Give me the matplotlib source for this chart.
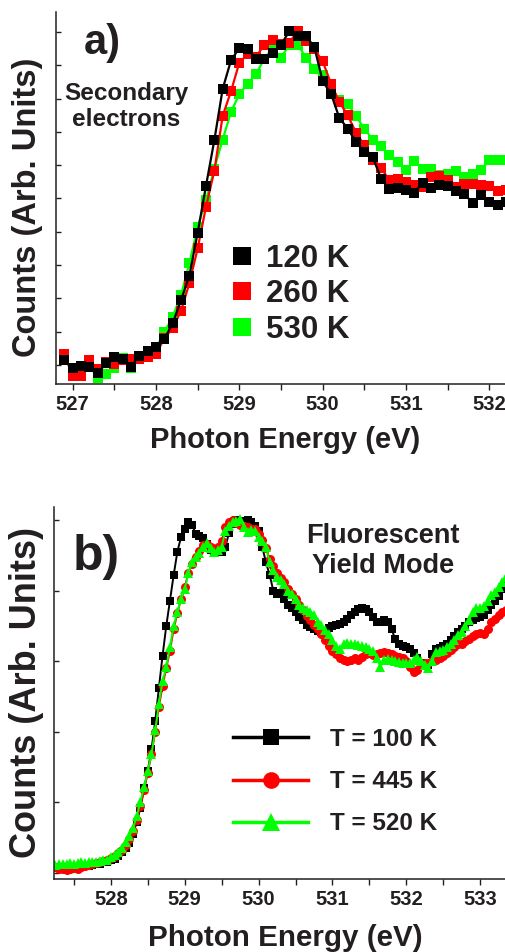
import numpy as np
import matplotlib
matplotlib.use("Agg")
import matplotlib.pyplot as plt
from matplotlib.lines import Line2D
from matplotlib.ticker import MultipleLocator

plt.rcParams["font.family"] = ["Liberation Sans", "DejaVu Sans"]
plt.rcParams["font.weight"] = "bold"

TXT = "#231f20"

# ── Panel a: secondary electrons (0.1 eV steps) ─────────────────────────────
e_a = np.round(np.arange(526.9, 532.25, 0.1), 2)

sec_120K = [0.15, -0.10, -0.02, -0.05, -0.25, 0.05, 0.23, 0.18, -0.05, 0.28,
            0.43, 0.55, 0.78, 1.25, 1.95, 2.68, 3.97, 5.38, 6.75, 8.29,
            9.15, 9.52, 9.48, 9.20, 9.20, 9.37, 9.62, 10.02, 9.88, 9.88,
            9.55, 8.52, 8.15, 7.42, 7.10, 6.70, 6.40, 6.25, 5.60, 5.28,
            5.32, 5.25, 5.18, 5.47, 5.32, 5.42, 5.38, 5.22, 5.13, 4.87,
            5.12, 4.90, 4.80, 4.90]
sec_260K = [0.32, -0.33, -0.33, 0.15, -0.13, 0.10, 0.02, 0.15, 0.18, 0.18,
            0.25, 0.33, 0.80, 1.10, 1.63, 2.45, 3.50, 4.75, 5.83, 7.48,
            8.22, 9.08, 9.33, 9.25, 9.62, 9.75, 9.65, 9.68, 10.03, 9.73,
            9.48, 9.12, 8.45, 7.90, 7.50, 6.98, 6.60, 6.17, 5.92, 5.55,
            5.60, 5.50, 5.40, 5.35, 5.65, 5.68, 5.57, 5.35, 5.45, 5.45,
            5.42, 5.37, 5.22, 5.27]
sec_530K = [0.25, -0.20, -0.13, -0.03, -0.38, -0.28, -0.08, 0.20, -0.08, 0.27,
            0.37, 0.52, 0.98, 1.45, 2.10, 3.05, 4.15, 4.95, 5.90, 6.77,
            7.60, 8.13, 8.45, 8.73, 9.20, 9.52, 9.23, 9.62, 9.62, 9.23,
            8.88, 8.70, 8.30, 7.97, 7.85, 7.47, 7.10, 6.77, 6.58, 6.30,
            6.10, 5.87, 6.13, 5.88, 5.88, 5.72, 5.75, 5.82, 5.65, 5.75,
            5.85, 6.15, 6.15, 6.15]

# ── Panel b: fluorescent yield (0.05 eV steps) ──────────────────────────────
e_b = np.round(np.arange(527.25, 533.36, 0.05), 2)

fy_100K = [0.09, 0.09, 0.08, 0.08, 0.09, 0.08, 0.09, 0.10, 0.10, 0.10,
           0.11, 0.12, 0.13, 0.15, 0.16, 0.18, 0.20, 0.24, 0.29, 0.35,
           0.42, 0.55, 0.72, 0.92, 1.20, 1.45, 1.75, 2.15, 2.62, 3.08,
           3.50, 3.86, 4.22, 4.55, 4.76, 4.88, 4.97, 4.93, 4.80, 4.77,
           4.75, 4.66, 4.58, 4.56, 4.58, 4.55, 4.62, 4.82, 4.95, 5.00,
           4.99, 4.98, 5.00, 4.97, 4.92, 4.85, 4.62, 4.40, 4.22, 4.00,
           3.95, 3.96, 3.88, 3.80, 3.76, 3.70, 3.63, 3.58, 3.52, 3.48,
           3.45, 3.43, 3.42, 3.43, 3.47, 3.50, 3.51, 3.53, 3.56, 3.60,
           3.66, 3.70, 3.74, 3.76, 3.74, 3.70, 3.62, 3.56, 3.55, 3.58,
           3.56, 3.45, 3.32, 3.25, 3.22, 3.20, 3.17, 3.12, 3.05, 2.98,
           2.94, 2.95, 3.10, 3.17, 3.19, 3.21, 3.25, 3.30, 3.36, 3.42,
           3.46, 3.50, 3.55, 3.58, 3.61, 3.63, 3.66, 3.72, 3.79, 3.85,
           3.92, 4.02, 4.10]
fy_445K = [0.08, 0.06, 0.05, 0.04, 0.06, 0.07, 0.06, 0.09, 0.10, 0.11,
           0.13, 0.14, 0.15, 0.17, 0.19, 0.21, 0.24, 0.28, 0.33, 0.40,
           0.48, 0.60, 0.75, 0.95, 1.18, 1.42, 1.68, 2.00, 2.35, 2.65,
           2.90, 3.15, 3.45, 3.68, 3.88, 4.05, 4.25, 4.38, 4.48, 4.56,
           4.65, 4.66, 4.62, 4.58, 4.62, 4.70, 4.90, 4.98, 5.00, 4.96,
           4.93, 4.92, 4.90, 4.88, 4.87, 4.80, 4.72, 4.60, 4.45, 4.35,
           4.25, 4.18, 4.12, 4.02, 3.95, 3.88, 3.80, 3.72, 3.64, 3.58,
           3.52, 3.45, 3.38, 3.30, 3.22, 3.15, 3.10, 3.05, 3.02, 3.00,
           3.02, 3.04, 3.02, 3.06, 3.10, 3.11, 3.09, 3.10, 3.12, 3.13,
           3.12, 3.10, 3.08, 3.06, 3.04, 3.00, 2.92, 2.85, 2.88, 2.95,
           2.97, 2.98, 3.00, 3.02, 3.05, 3.08, 3.12, 3.16, 3.20, 3.24,
           3.25, 3.28, 3.32, 3.36, 3.39, 3.40, 3.39, 3.45, 3.55, 3.60,
           3.65, 3.70, 3.72]
fy_520K = [0.11, 0.12, 0.13, 0.12, 0.14, 0.13, 0.14, 0.15, 0.14, 0.15,
           0.16, 0.15, 0.17, 0.18, 0.19, 0.22, 0.25, 0.30, 0.36, 0.44,
           0.52, 0.64, 0.80, 1.01, 1.22, 1.45, 1.68, 2.02, 2.40, 2.72,
           2.92, 3.20, 3.50, 3.70, 3.88, 4.02, 4.25, 4.40, 4.48, 4.54,
           4.62, 4.68, 4.60, 4.55, 4.57, 4.62, 4.85, 4.92, 4.97, 4.99,
           5.01, 4.90, 4.83, 4.86, 4.85, 4.76, 4.70, 4.62, 4.40, 4.30,
           4.20, 4.15, 4.10, 4.00, 3.95, 3.88, 3.80, 3.75, 3.72, 3.70,
           3.66, 3.56, 3.52, 3.44, 3.38, 3.30, 3.22, 3.17, 3.24, 3.26,
           3.25, 3.24, 3.23, 3.22, 3.20, 3.18, 3.15, 3.05, 2.92, 3.02,
           3.03, 3.02, 3.00, 2.99, 2.98, 2.97, 2.98, 3.02, 3.06, 3.00,
           2.95, 2.90, 3.00, 3.13, 3.15, 3.16, 3.20, 3.25, 3.30, 3.37,
           3.42, 3.50, 3.58, 3.70, 3.75, 3.75, 3.78, 3.85, 3.94, 3.98,
           4.05, 4.13, 4.20]

labels_a = ["120 K", "260 K", "530 K"]
labels_b = ["T = 100 K", "T = 445 K", "T = 520 K"]
BLACK, RED, GREEN = "#000000", "#ff0000", "#00ff00"


def style_axis(ax, xlim, ylim, yticks, xmajor):
    ax.set_xlim(*xlim)
    ax.set_ylim(*ylim)
    ax.set_yticks(yticks)
    ax.set_yticklabels([])
    ax.xaxis.set_major_locator(MultipleLocator(xmajor))
    ax.xaxis.set_minor_locator(MultipleLocator(xmajor / 2))
    for s in ["top", "right"]:
        ax.spines[s].set_visible(False)
    for s in ["left", "bottom"]:
        ax.spines[s].set_linewidth(1.1)
        ax.spines[s].set_color(TXT)
    ax.tick_params(axis="y", direction="in", length=3.5, width=1.0, color=TXT)
    ax.tick_params(axis="x", which="both", direction="out", length=4, width=1.0,
                   color=TXT, labelsize=14.5, labelcolor=TXT, pad=4)
    for lab in ax.get_xticklabels():
        lab.set_fontweight("bold")


fig = plt.figure(figsize=(5.06, 9.52), dpi=100)

# ── Panel a ─────────────────────────────────────────────────────────────────
ax1 = fig.add_axes([56 / 506, 568 / 952, 450 / 506, 372 / 952])
ax1.plot(e_a, sec_530K, "-s", color=GREEN, ms=6.5, lw=1.6, mew=0)
ax1.plot(e_a, sec_260K, "-s", color=RED, ms=6.5, lw=1.6, mew=0)
ax1.plot(e_a, sec_120K, "-s", color=BLACK, ms=6.5, lw=1.6, mew=0)
style_axis(ax1, (526.8, 532.2), (-0.57, 10.6), np.arange(0, 11), 1)

handles_a = [Line2D([], [], ls="none", marker="s", ms=12.5, color=c, mew=0)
             for c in (BLACK, RED, GREEN)]
leg = ax1.legend(handles_a, labels_a, loc="upper left",
                 bbox_to_anchor=((233 - 56) / 450, (384 - 244) / 372),
                 frameon=False, borderpad=0, borderaxespad=0,
                 handlelength=0.6, handletextpad=0.45, labelspacing=0.17,
                 prop={"size": 22.5, "weight": "bold"})
for t in leg.get_texts():
    t.set_color(TXT)

ax1.text(0.104, 0.917, "a)", transform=ax1.transAxes, ha="center", va="center",
         fontsize=30, fontweight="bold", color=TXT)
ax1.text(0.156, 0.746, "Secondary\nelectrons", transform=ax1.transAxes,
         ha="center", va="center", fontsize=17.5, fontweight="bold", color=TXT,
         linespacing=1.15)
ax1.text(0.51, -0.1505, "Photon Energy (eV)", transform=ax1.transAxes,
         ha="center", va="center", fontsize=21, fontweight="bold", color=TXT)
fig.text(28 / 506, 1 - 207 / 952, "Counts (Arb. Units)", rotation=90,
         ha="center", va="center", fontsize=23.5, fontweight="bold", color=TXT)

# ── Panel b ─────────────────────────────────────────────────────────────────
ax2 = fig.add_axes([54 / 506, 72.7 / 952, 452 / 506, 372.6 / 952])
ax2.plot(e_b, fy_100K, "-s", color=BLACK, ms=5.5, lw=1.4, mew=0)
ax2.plot(e_b, fy_445K, "-o", color=RED, ms=6.5, lw=1.4, mew=0)
ax2.plot(e_b, fy_520K, "-^", color=GREEN, ms=7, lw=1.4, mew=0)
style_axis(ax2, (527.23, 533.35), (-0.09, 5.19), np.arange(0, 6), 1)

handles_b = [Line2D([], [], ls="-", lw=2.5, marker=m, ms=ms, color=c, mew=0)
             for m, ms, c in (("s", 11, BLACK), ("o", 12, RED), ("^", 13, GREEN))]
leg2 = ax2.legend(handles_b, labels_b, loc="upper left",
                  bbox_to_anchor=((233 - 54) / 452, (879.3 - 728) / 372.6),
                  frameon=False, borderpad=0, borderaxespad=0,
                  handlelength=3.1, handletextpad=0.9, labelspacing=0.79,
                  prop={"size": 17.5, "weight": "bold"})
for t in leg2.get_texts():
    t.set_color(TXT)

ax2.text(0.093, 0.865, "b)", transform=ax2.transAxes, ha="center", va="center",
         fontsize=36, fontweight="bold", color=TXT)
ax2.text(0.728, 0.881, "Fluorescent\nYield Mode", transform=ax2.transAxes,
         ha="center", va="center", fontsize=19.5, fontweight="bold", color=TXT,
         linespacing=1.2)
ax2.text(0.512, -0.1575, "Photon Energy (eV)", transform=ax2.transAxes,
         ha="center", va="center", fontsize=21.3, fontweight="bold", color=TXT)
fig.text(27 / 506, 1 - 692.5 / 952, "Counts (Arb. Units)", rotation=90,
         ha="center", va="center", fontsize=26, fontweight="bold", color=TXT)

fig.savefig("out.png", dpi=100)
